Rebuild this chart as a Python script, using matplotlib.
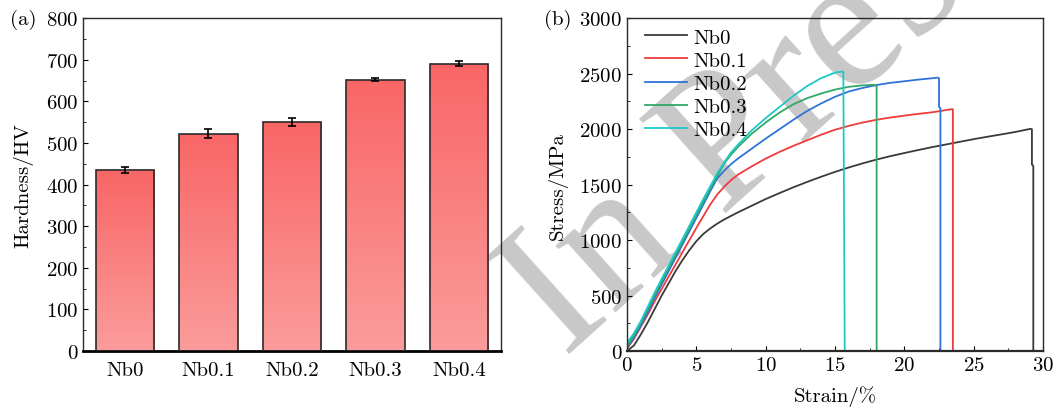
import numpy as np
import matplotlib
matplotlib.use('Agg')
import matplotlib.pyplot as plt
from matplotlib.colors import LinearSegmentedColormap
from matplotlib.ticker import MultipleLocator

# hardness data (panel a)
alloys = ['Nb0', 'Nb0.1', 'Nb0.2', 'Nb0.3', 'Nb0.4']
hardness = [435, 522, 550, 652, 691]
hardness_err = [8, 11, 10, 4, 6]

# stress-strain curves (panel b)
strain_nb0 = [0, 0.5, 1, 1.5, 2, 2.5, 3, 3.5, 4, 4.5, 5, 5.5, 6, 6.5, 7, 7.5, 8, 9, 10,
              11, 12, 13, 14, 15, 16, 17, 18, 19, 20, 21, 22, 23, 24, 25, 26, 27, 28, 29.1,
              29.2, 29.2, 29.3, 29.3]
stress_nb0 = [0, 50, 150, 260, 380, 500, 610, 720, 820, 910, 990, 1055, 1105, 1148, 1185, 1218, 1250, 1310, 1370,
              1424, 1476, 1525, 1571, 1615, 1655, 1692, 1726, 1757, 1785, 1812, 1838, 1862, 1886, 1910, 1932, 1953, 1975, 2003,
              2000, 1680, 1670, 0]

strain_nb01 = [0, 0.5, 1, 1.5, 2, 2.5, 3, 3.5, 4, 4.5, 5, 5.5, 6, 6.5, 7, 7.5, 8, 9, 10,
               11, 12, 13, 14, 15, 16, 17, 18, 19, 20, 21, 22, 23.4, 23.5, 23.5]
stress_nb01 = [20, 110, 220, 330, 450, 560, 670, 780, 890, 1000, 1110, 1215, 1320, 1410, 1480, 1540, 1590, 1665, 1735,
               1795, 1850, 1900, 1950, 1995, 2030, 2060, 2085, 2105, 2122, 2138, 2152, 2180, 2180, 0]

strain_nb02 = [0, 0.5, 1, 1.5, 2, 2.5, 3, 3.5, 4, 4.5, 5, 5.5, 6, 6.5, 7, 7.5, 8, 8.5, 9, 9.5, 10,
               11, 12, 13, 14, 15, 16, 17, 18, 19, 20, 21, 22, 22.4, 22.5, 22.5, 22.6, 22.6]
stress_nb02 = [30, 120, 230, 350, 480, 600, 720, 840, 960, 1080, 1200, 1320, 1440, 1555, 1625, 1685, 1735, 1780, 1825, 1870, 1915,
               2000, 2085, 2165, 2232, 2292, 2340, 2372, 2398, 2418, 2432, 2447, 2459, 2465, 2460, 2200, 2190, 0]

strain_nb03 = [0, 0.5, 1, 1.5, 2, 2.5, 3, 3.5, 4, 4.5, 5, 5.5, 6, 6.5, 7, 7.5, 8, 9, 10,
               11, 12, 13, 14, 15, 16, 17, 17.8, 17.9, 18.0, 18.0]
stress_nb03 = [45, 140, 250, 375, 505, 625, 745, 865, 985, 1105, 1225, 1345, 1460, 1575, 1690, 1770, 1840, 1960, 2060,
               2150, 2225, 2280, 2322, 2357, 2382, 2395, 2400, 2395, 2390, 0]

strain_nb04 = [0, 0.5, 1, 1.5, 2, 2.5, 3, 3.5, 4, 4.5, 5, 5.5, 6, 6.5, 7, 7.5, 8, 9, 10,
               11, 12, 13, 14, 15, 15.5, 15.6, 15.7]
stress_nb04 = [75, 160, 270, 400, 530, 650, 770, 890, 1010, 1130, 1250, 1370, 1485, 1600, 1700, 1790, 1860, 1990, 2100,
               2200, 2300, 2390, 2460, 2510, 2520, 2515, 0]

curves = [(strain_nb0, stress_nb0, 'Nb0', '#3a3a3a'),
          (strain_nb01, stress_nb01, 'Nb0.1', '#ee3b3b'),
          (strain_nb02, stress_nb02, 'Nb0.2', '#2f73d8'),
          (strain_nb03, stress_nb03, 'Nb0.3', '#2fa868'),
          (strain_nb04, stress_nb04, 'Nb0.4', '#1ec8c8')]

plt.rcParams['font.family'] = 'serif'
plt.rcParams['font.serif'] = ['cmr10']
plt.rcParams['axes.unicode_minus'] = False
plt.rcParams['axes.formatter.use_mathtext'] = True
plt.rcParams['font.size'] = 15

fig = plt.figure(figsize=(10.59, 4.10), dpi=100)
ax1 = fig.add_axes([0.0786, 0.1415, 0.3941, 0.8115])
ax2 = fig.add_axes([0.5921, 0.1415, 0.3928, 0.8115])
for ax in (ax1, ax2):
    ax.set_facecolor('none')

# watermark behind the axes
fig.text(0.722, 0.717, 'In Press', fontsize=140, family='Liberation Serif',
         color='#c8c8c8', rotation=42, ha='center', va='center', zorder=-1)

# ---- panel (a): bars with vertical gradient
cmap = LinearSegmentedColormap.from_list('redgrad', ['#f96666', '#fb9c9c'])
x = np.arange(len(alloys))
bars = ax1.bar(x, hardness, width=0.7, color='none', edgecolor='#2a2a2a', linewidth=1.2, zorder=3)
grad = np.linspace(0, 1, 256).reshape(-1, 1)
for b in bars:
    x0, w, h = b.get_x(), b.get_width(), b.get_height()
    im = ax1.imshow(grad, cmap=cmap, aspect='auto', extent=[x0, x0 + w, 0, h], origin='upper', zorder=2)
    im.set_clip_path(b)
ax1.errorbar(x, hardness, yerr=hardness_err, fmt='none', ecolor='black', elinewidth=1.2,
             capsize=3, capthick=1.2, zorder=4)
ax1.set_xlim(-0.5, 4.5)
ax1.set_ylim(0, 800)
ax1.set_xticks(x)
ax1.set_xticklabels(alloys)
ax1.yaxis.set_major_locator(MultipleLocator(100))
ax1.yaxis.set_minor_locator(MultipleLocator(50))
ax1.tick_params(axis='y', which='both', direction='in', right=False)
ax1.tick_params(axis='x', length=0, pad=7)
ax1.set_ylabel('Hardness/HV', fontsize=15, labelpad=9)
for s in ax1.spines.values():
    s.set_color('#2a2a2a')
    s.set_linewidth(1.0)
ax1.spines['bottom'].set_linewidth(2.0)
ax1.spines['bottom'].set_color('black')
fig.text(0.009, 0.952, '(a)', fontsize=15, va='center')

# ---- panel (b): stress-strain
for sx, sy, lab, col in curves:
    ax2.plot(sx, sy, color=col, lw=1.3, label=lab)
ax2.set_xlim(0, 30)
ax2.set_ylim(0, 3000)
ax2.xaxis.set_major_locator(MultipleLocator(5))
ax2.xaxis.set_minor_locator(MultipleLocator(2.5))
ax2.yaxis.set_major_locator(MultipleLocator(500))
ax2.yaxis.set_minor_locator(MultipleLocator(250))
ax2.tick_params(which='both', direction='in', top=False, right=False)
ax2.set_xlabel('Strain/%', fontsize=15, labelpad=8)
ax2.set_ylabel('Stress/MPa', fontsize=15, labelpad=8)
for s in ax2.spines.values():
    s.set_color('#2a2a2a')
    s.set_linewidth(1.0)
ax2.spines['bottom'].set_linewidth(1.6)
ax2.legend(loc='upper left', bbox_to_anchor=(0.043, 0.971), frameon=False, handlelength=2.0,
           handletextpad=0.35, labelspacing=0.22, borderpad=0, borderaxespad=0, fontsize=15)
fig.text(0.514, 0.952, '(b)', fontsize=15, va='center')

fig.savefig('out.png', dpi=100)
